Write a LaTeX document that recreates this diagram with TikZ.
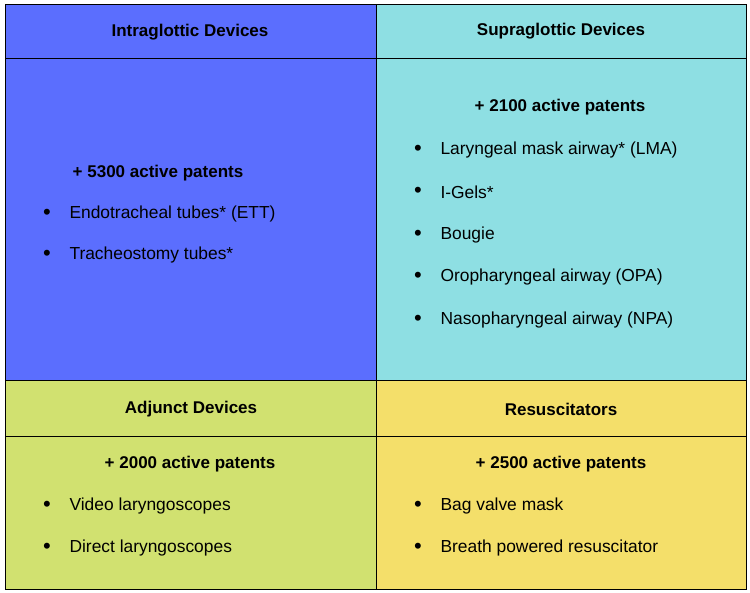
\documentclass[tikz,border=0pt]{standalone}
\usepackage{fontspec}
\setmainfont{Liberation Sans}
\definecolor{cblue}{HTML}{5B6EFE}
\definecolor{ccyan}{HTML}{8EDFE3}
\definecolor{cgreen}{HTML}{D1E170}
\definecolor{cyellow}{HTML}{F4DF6A}
\begin{document}
\begin{tikzpicture}[x=1pt,y=-1pt,
  hdr/.style={font=\fontsize{17}{20}\selectfont\bfseries},
  item/.style={anchor=west,font=\fontsize{17.4}{20}\selectfont},
  bul/.style={font=\fontsize{22}{24}\selectfont},
  cell/.style={draw=black,line width=1pt}]
\useasboundingbox (0,0) rectangle (750,593);
\fill[white] (0,0) rectangle (750,593);
\filldraw[cell,fill=cblue] (5,5) rectangle (376,381);
\filldraw[cell,fill=ccyan] (376,5) rectangle (746,381);
\filldraw[cell,fill=cgreen] (5,381) rectangle (376,589);
\filldraw[cell,fill=cyellow] (376,381) rectangle (746,589);
\draw[cell] (5,59) -- (746,59);
\draw[cell] (5,437) -- (746,437);
\node[hdr] (h1) at (190,32) {Intraglottic Devices};
\node[hdr] (h2) at (561,31) {Supraglottic Devices};
\node[hdr] (h3) at (191,409) {Adjunct Devices};
\node[hdr] (h4) at (561,409) {Resuscitators};
\node[hdr] (p1) at (158,173) {+ 5300 active patents};
\node[hdr] (p2) at (560,107) {+ 2100 active patents};
\node[hdr] (p3) at (190,464) {+ 2000 active patents};
\node[hdr] (p4) at (561,464) {+ 2500 active patents};
\foreach \n/\x/\y/\t in {
 a1/47/212/{Endotracheal tubes* (ETT)},
 a2/47/253/{Tracheostomy tubes*},
 b1/418/148/{Laryngeal mask airway* (LMA)},
 b2/418/190/{I-Gels*},
 b3/418/233/{Bougie},
 b4/418/275/{Oropharyngeal airway (OPA)},
 b5/418/318/{Nasopharyngeal airway (NPA)},
 c1/47/504/{Video laryngoscopes},
 c2/47/546/{Direct laryngoscopes},
 d1/418/504/{Bag valve mask},
 d2/418/546/{Breath powered resuscitator}}{
 \node[bul] (\n b) at (\x,\y+2) {\textbullet};
 \node[item] (\n) at (\x+19,\y+2) {\t};
}
\end{tikzpicture}
\end{document}
